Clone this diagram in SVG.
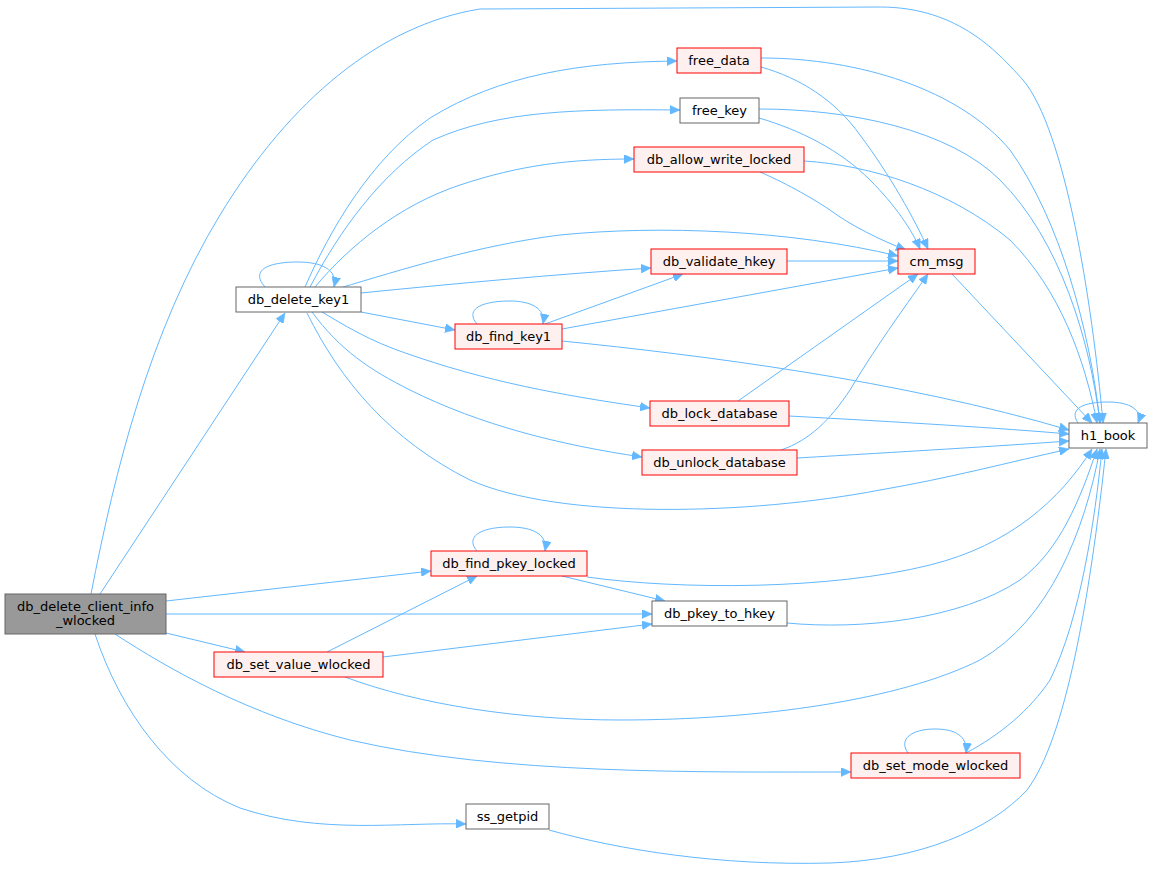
<svg xmlns="http://www.w3.org/2000/svg" width="1152" height="869" viewBox="0 0 1152 869">
<style>
.e{fill:none;stroke:#63b8ff;stroke-width:1;marker-end:url(#ah)}
.n rect{stroke-width:1}
.w rect{fill:#ffffff;stroke:#666666}
.r rect{fill:#fff0f0;stroke:#ff0000}
.g rect{fill:#999999;stroke:#666666}
text{font-family:"DejaVu Sans","Liberation Sans",sans-serif;font-size:13px;fill:#000000;text-anchor:middle}
</style>
<defs>
<marker id="ah" markerUnits="userSpaceOnUse" markerWidth="11" markerHeight="9" refX="10" refY="4.5" orient="auto">
<path d="M0,0 L10,4.5 L0,9 Z" fill="#63b8ff" stroke="#63b8ff" stroke-width="0.5"/>
</marker>
</defs>
<rect x="0" y="0" width="1152" height="869" fill="#ffffff"/>
<g id="edges">
<path class="e" d="M91,594 C115,470 150,330 220,215 C290,100 380,25 480,9 L880,7 C960,7 1000,55 1023,80 C1065,130 1092,300 1103,423"/>
<path class="e" d="M100,594 L285,313"/>
<path class="e" d="M166,601 L431,571"/>
<path class="e" d="M166,614 L652,614"/>
<path class="e" d="M166,633 L245,652"/>
<path class="e" d="M115,634 C170,670 250,715 350,740 C500,775 700,772 851,772"/>
<path class="e" d="M95,634 C120,710 170,780 240,808 C320,835 400,822 466,824"/>
<path class="e" d="M265,287 C250,270 268,262 298,262 C322,262 338,270 334,287"/>
<path class="e" d="M305,287 C330,230 370,160 430,118 C500,75 580,62 677,61"/>
<path class="e" d="M310,287 C340,230 380,175 433,140 C500,110 580,109 680,110"/>
<path class="e" d="M315,287 C350,245 400,205 460,185 C520,165 570,159 634,159"/>
<path class="e" d="M340,288 C400,270 480,245 560,235 C660,225 790,230 898,256"/>
<path class="e" d="M361,293 C450,284 560,274 651,268"/>
<path class="e" d="M361,312 L455,330"/>
<path class="e" d="M322,312 C360,335 380,345 420,358 C500,385 580,398 650,408"/>
<path class="e" d="M312,312 C340,350 370,370 410,390 C480,425 560,445 642,457"/>
<path class="e" d="M307,313 C340,380 390,440 470,480 C560,520 750,515 880,490 C950,478 1010,462 1069,449"/>
<path class="e" d="M477,324 C465,310 480,301 510,301 C530,301 546,308 543,324"/>
<path class="e" d="M545,324 L683,274"/>
<path class="e" d="M562,329 L898,268"/>
<path class="e" d="M562,341 C700,355 900,380 1069,430"/>
<path class="e" d="M761,58 C860,58 960,90 1010,150 C1060,220 1090,330 1100,423"/>
<path class="e" d="M761,67 C800,78 835,100 860,135 C890,175 915,220 928,249"/>
<path class="e" d="M759,109 C850,109 950,130 1000,180 C1060,240 1090,340 1100,423"/>
<path class="e" d="M759,118 C800,130 840,150 870,180 C895,205 912,230 920,249"/>
<path class="e" d="M804,161 C870,165 950,190 1010,240 C1060,290 1085,360 1097,423"/>
<path class="e" d="M760,172 C790,185 815,200 830,210 C850,225 880,240 906,250"/>
<path class="e" d="M787,261 L898,261"/>
<path class="e" d="M952,274 L1092,423"/>
<path class="e" d="M738,401 L918,274"/>
<path class="e" d="M789,416 C900,422 1000,428 1069,434"/>
<path class="e" d="M781,450 C810,440 830,420 850,390 C880,340 910,300 928,274"/>
<path class="e" d="M797,458 C900,452 1000,446 1069,441"/>
<path class="e" d="M1078,423 C1068,408 1085,402 1108,402 C1130,402 1143,410 1138,423"/>
<path class="e" d="M477,551 C465,537 480,527 510,527 C532,527 548,534 545,551"/>
<path class="e" d="M562,576 L665,601"/>
<path class="e" d="M587,577 C680,590 830,590 930,565 C1010,545 1060,500 1092,449"/>
<path class="e" d="M787,623 C860,630 960,620 1020,580 C1060,550 1080,500 1097,449"/>
<path class="e" d="M327,652 L477,576"/>
<path class="e" d="M383,657 L652,624"/>
<path class="e" d="M345,677 C420,705 520,720 620,720 C760,720 900,700 980,660 C1050,620 1085,530 1100,449"/>
<path class="e" d="M908,753 C898,739 912,729 935,729 C955,729 968,736 966,753"/>
<path class="e" d="M966,753 C1000,735 1030,710 1050,680 C1080,620 1095,520 1102,449"/>
<path class="e" d="M549,830 C620,850 720,866 830,863 C920,860 990,830 1027,790 C1065,740 1090,600 1106,449"/>
</g>
<g id="node_db_delete_client_info_wlocked" class="n g"><rect x="5" y="594" width="161" height="40"/><text x="85.5" y="610.5">db_delete_client_info</text><text x="85.5" y="624.5">_wlocked</text></g>
<g id="node_db_delete_key1" class="n w"><rect x="236" y="287" width="125" height="25"/><text x="298.5" y="304">db_delete_key1</text></g>
<g id="node_free_data" class="n r"><rect x="677" y="48" width="84" height="25"/><text x="719" y="65">free_data</text></g>
<g id="node_free_key" class="n w"><rect x="680" y="98" width="79" height="25"/><text x="719.5" y="115">free_key</text></g>
<g id="node_db_allow_write_locked" class="n r"><rect x="634" y="147" width="170" height="25"/><text x="719" y="164">db_allow_write_locked</text></g>
<g id="node_db_validate_hkey" class="n r"><rect x="651" y="249" width="136" height="25"/><text x="719" y="266">db_validate_hkey</text></g>
<g id="node_cm_msg" class="n r"><rect x="898" y="249" width="77" height="25"/><text x="936.5" y="266">cm_msg</text></g>
<g id="node_db_find_key1" class="n r"><rect x="455" y="324" width="107" height="25"/><text x="508.5" y="341">db_find_key1</text></g>
<g id="node_db_lock_database" class="n r"><rect x="650" y="401" width="139" height="25"/><text x="719.5" y="418">db_lock_database</text></g>
<g id="node_db_unlock_database" class="n r"><rect x="642" y="450" width="155" height="25"/><text x="719.5" y="467">db_unlock_database</text></g>
<g id="node_h1_book" class="n w"><rect x="1069" y="423" width="78" height="25"/><text x="1108" y="440">h1_book</text></g>
<g id="node_db_find_pkey_locked" class="n r"><rect x="431" y="551" width="156" height="25"/><text x="509" y="568">db_find_pkey_locked</text></g>
<g id="node_db_pkey_to_hkey" class="n w"><rect x="652" y="601" width="135" height="25"/><text x="719.5" y="618">db_pkey_to_hkey</text></g>
<g id="node_db_set_value_wlocked" class="n r"><rect x="214" y="652" width="169" height="25"/><text x="298.5" y="669">db_set_value_wlocked</text></g>
<g id="node_db_set_mode_wlocked" class="n r"><rect x="851" y="753" width="169" height="25"/><text x="935.5" y="770">db_set_mode_wlocked</text></g>
<g id="node_ss_getpid" class="n w"><rect x="466" y="804" width="83" height="25"/><text x="507.5" y="821">ss_getpid</text></g>
</svg>
